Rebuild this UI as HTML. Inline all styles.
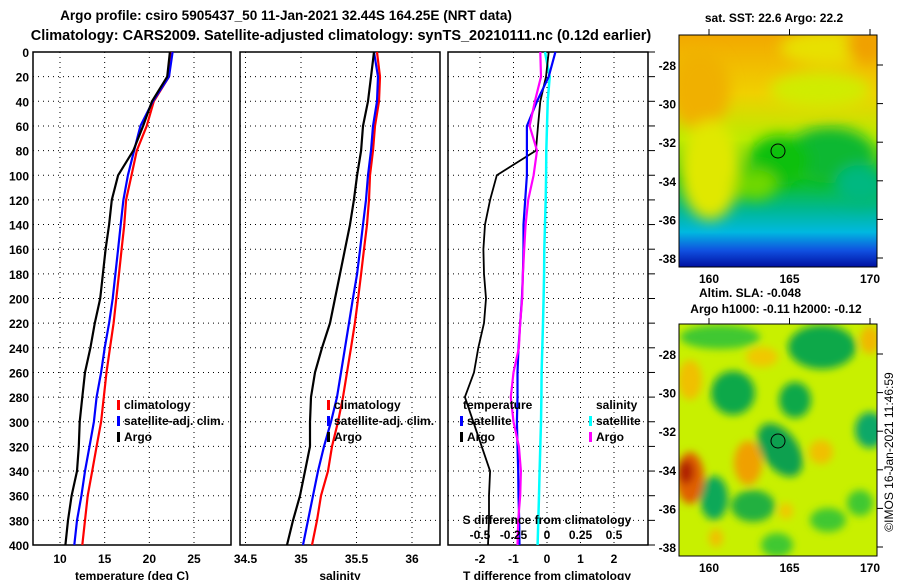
<!DOCTYPE html>
<html><head><meta charset="utf-8"><style>
html,body{margin:0;padding:0;background:#fff;width:900px;height:580px;overflow:hidden}
svg{display:block;font-family:"Liberation Sans",sans-serif;font-weight:bold}
</style></head><body>
<svg id="c" width="900" height="580" viewBox="0 0 900 580" xmlns="http://www.w3.org/2000/svg">
<defs>
<filter id="bl" x="-20%" y="-20%" width="140%" height="140%"><feGaussianBlur stdDeviation="7"/></filter>
<filter id="bl2" x="-20%" y="-20%" width="140%" height="140%"><feGaussianBlur stdDeviation="4"/></filter>
<clipPath id="m1c"><rect x="679" y="35" width="198" height="232"/></clipPath>
<clipPath id="m2c"><rect x="679" y="324" width="198" height="232"/></clipPath>
<linearGradient id="g1" x1="0" y1="0" x2="0" y2="1">
<stop offset="0" stop-color="#f2a800"/><stop offset="0.25" stop-color="#f0d000"/><stop offset="0.45" stop-color="#b8ec00"/>
<stop offset="0.62" stop-color="#10c020"/><stop offset="0.75" stop-color="#00b890"/><stop offset="0.85" stop-color="#00b8e0"/>
<stop offset="0.93" stop-color="#1050e0"/><stop offset="1" stop-color="#0010a0"/></linearGradient>
</defs>
<g id="titles">
<text x="286" y="20" text-anchor="middle" font-size="13.6">Argo profile: csiro 5905437_50 11-Jan-2021 32.44S 164.25E (NRT data)</text>
<text x="341" y="40" text-anchor="middle" font-size="14.5">Climatology: CARS2009. Satellite-adjusted climatology: synTS_20210111.nc (0.12d earlier)</text>
</g>
<g id="panels"></g>
<g>
<text x="774" y="22" text-anchor="middle" font-size="12">sat. SST: 22.6 Argo: 22.2</text>
<g clip-path="url(#m1c)">
<rect x="679" y="35" width="198" height="232" fill="url(#g1)"/>
<g filter="url(#bl)">
<ellipse cx="830" cy="48" rx="50" ry="18" fill="#e8e000"/>
<ellipse cx="865" cy="45" rx="18" ry="18" fill="#f0a000"/>
<ellipse cx="700" cy="90" rx="30" ry="40" fill="#f0b000"/>
<ellipse cx="820" cy="90" rx="50" ry="18" fill="#d0ec00"/>
<ellipse cx="710" cy="170" rx="30" ry="50" fill="#e0e800"/>
<ellipse cx="830" cy="155" rx="45" ry="28" fill="#10b830"/>
<ellipse cx="780" cy="160" rx="30" ry="25" fill="#10c010"/>
<ellipse cx="755" cy="185" rx="22" ry="15" fill="#70d800"/>
<ellipse cx="860" cy="185" rx="25" ry="20" fill="#00b880"/>
</g>
</g>
<rect x="679" y="35" width="198" height="232" fill="none" stroke="#000" stroke-width="1"/>
<circle cx="778" cy="151" r="7" fill="none" stroke="#000" stroke-width="1"/>
</g>
<g>
<text x="699" y="297" font-size="12">Altim. SLA: -0.048</text>
<text x="776" y="313" text-anchor="middle" font-size="12">Argo h1000: -0.11 h2000: -0.12</text>
<g clip-path="url(#m2c)">
<rect x="679" y="324" width="198" height="232" fill="#c8f000"/>
<g filter="url(#bl2)">
<ellipse cx="720" cy="337" rx="40" ry="12" fill="#40c830"/>
<ellipse cx="822" cy="347" rx="34" ry="22" fill="#10a848"/>
<ellipse cx="733" cy="393" rx="22" ry="22" fill="#10a848"/>
<ellipse cx="795" cy="400" rx="16" ry="18" fill="#10a848"/>
<ellipse cx="780" cy="450" rx="18" ry="30" fill="#10a050" transform="rotate(-35 780 450)"/>
<ellipse cx="870" cy="430" rx="15" ry="18" fill="#10a868"/>
<ellipse cx="714" cy="498" rx="14" ry="22" fill="#10a858"/>
<ellipse cx="753" cy="506" rx="22" ry="16" fill="#20b040"/>
<ellipse cx="777" cy="545" rx="16" ry="12" fill="#40c830"/>
<ellipse cx="828" cy="520" rx="18" ry="12" fill="#40c830"/>
<ellipse cx="860" cy="503" rx="13" ry="13" fill="#40c830"/>
<ellipse cx="690" cy="380" rx="12" ry="20" fill="#f0c000"/>
<ellipse cx="762" cy="357" rx="16" ry="10" fill="#f0c800"/>
<ellipse cx="870" cy="340" rx="10" ry="14" fill="#f0b800"/>
<ellipse cx="748" cy="463" rx="14" ry="22" fill="#f0a000"/>
<ellipse cx="821" cy="452" rx="12" ry="12" fill="#f0c000"/>
<ellipse cx="690" cy="478" rx="14" ry="26" fill="#e06000"/>
<ellipse cx="686" cy="472" rx="8" ry="12" fill="#b02000"/>
<ellipse cx="716" cy="538" rx="7" ry="9" fill="#f0c000"/>
<ellipse cx="786" cy="511" rx="7" ry="8" fill="#f0c800"/>
</g>
</g>
<rect x="679" y="324" width="198" height="232" fill="none" stroke="#000" stroke-width="1"/>
<circle cx="778" cy="441" r="7" fill="none" stroke="#000" stroke-width="1"/>
</g>
<g id="mapaxes" font-size="12"></g>
<text transform="translate(893 452) rotate(-90)" text-anchor="middle" font-size="12" font-weight="normal">©IMOS 16-Jan-2021 11:46:59</text>
</svg>
<script>
const depths=[0,20,40,60,80,100,120,140,160,180,200,220,240,260,280,300,320,340,360,380,400];
const tempClim=[22.4,22.2,20.5,19.7,18.6,18.0,17.4,17.2,16.9,16.6,16.3,16.0,15.6,15.2,14.9,14.6,14.1,13.6,13.1,12.8,12.5];
const tempSat=[22.6,22.2,20.4,19.0,18.3,17.6,17.1,16.8,16.5,16.2,15.9,15.5,15.0,14.6,14.1,13.8,13.3,12.8,12.4,11.9,11.6];
const tempArgo=[22.3,22.0,20.3,19.3,18.2,16.5,15.8,15.5,15.1,14.8,14.5,13.9,13.4,12.8,12.5,12.2,12.1,11.9,11.3,10.9,10.6];
const salClim=[35.685,35.712,35.703,35.667,35.649,35.622,35.613,35.595,35.568,35.541,35.514,35.486,35.45,35.414,35.378,35.333,35.279,35.243,35.18,35.144,35.099];
const salSat=[35.658,35.694,35.685,35.649,35.631,35.604,35.586,35.559,35.532,35.505,35.468,35.432,35.396,35.36,35.324,35.27,35.207,35.153,35.108,35.063,35.018];
const salArgo=[35.658,35.631,35.604,35.559,35.541,35.505,35.477,35.441,35.396,35.351,35.306,35.261,35.189,35.126,35.09,35.081,35.081,35.036,34.991,34.928,34.874];
const tDiffSat=[0.25,0.05,-0.3,-0.6,-0.6,-0.6,-0.65,-0.7,-0.7,-0.72,-0.75,-0.8,-0.85,-0.88,-0.88,-0.9,-0.88,-0.86,-0.85,-0.83,-0.82];
const tDiffArgo=[0.05,-0.03,-0.2,-0.27,-0.33,-1.5,-1.7,-1.85,-1.9,-1.88,-1.82,-1.88,-2.05,-2.18,-2.45,-2.2,-1.95,-1.7,-1.73,-1.73,-1.76];
const sDiffSat=[-0.015,0.02,0.005,0.0,-0.005,-0.007,-0.01,-0.015,-0.02,-0.022,-0.025,-0.03,-0.035,-0.04,-0.042,-0.045,-0.05,-0.055,-0.06,-0.065,-0.07];
const sDiffArgo=[-0.05,-0.045,-0.09,-0.13,-0.075,-0.1,-0.14,-0.16,-0.17,-0.18,-0.185,-0.2,-0.21,-0.25,-0.27,-0.25,-0.21,-0.195,-0.2,-0.215,-0.22];
const depthTicks=[0,20,40,60,80,100,120,140,160,180,200,220,240,260,280,300,320,340,360,380,400];
const tempTicks=[10,15,20,25];
const salTicks=[34.5,35,35.5,36];
const tDiffTicks=[-2,-1,0,1,2];
const sDiffTicks=[-0.5,-0.25,0,0.25,0.5];
const sDiffLabels=["-0.5","-0.25","0","0.25","0.5"];
const mapLatTicks=[-28,-30,-32,-34,-36,-38];
const mapLonTicks=[160,165,170];

const NS='http://www.w3.org/2000/svg';
const panelsG=document.getElementById('panels');
function mk(tag,attrs,parent){const e=document.createElementNS(NS,tag);for(const k in attrs)e.setAttribute(k,attrs[k]);(parent||panelsG).appendChild(e);return e;}
const Y0=52,Y1=545;
function yD(d){return Y0+(Y1-Y0)*d/400;}
function lin(d0,d1,r0,r1){return v=>r0+(v-d0)*(r1-r0)/(d1-d0);}
const xT=lin(10,25,60,194);
const xS=lin(35,36,301,412);
const xdT=lin(0,1,547,580.5);
const xdS=lin(0,0.25,547,580.5);

function frame(x0,x1,name){
  const r=mk('rect',{x:x0,y:Y0,width:x1-x0,height:Y1-Y0,fill:'none',stroke:'#000','stroke-width':1.5});
  
  
  depthTicks.forEach(d=>{ if(d>0&&d<400){const l=mk('line',{x1:x0,x2:x1,y1:yD(d),y2:yD(d),stroke:'#000','stroke-width':1,'stroke-dasharray':'1 4'});
    
    }});
}
function vgrid(ticks,sc,name){ticks.forEach(t=>{const x=sc(t);const l=mk('line',{x1:x,x2:x,y1:Y0,y2:Y1,stroke:'#000','stroke-width':1,'stroke-dasharray':'1 4'});
  
  });}
function xlabels(ticks,sc,y,name,labels){ticks.forEach((t,i)=>{const tx=mk('text',{x:sc(t),y:y,'text-anchor':'middle','font-size':12});tx.textContent=labels?labels[i]:String(t);
  
  });}
function line(vals,sc,color,name,w){const pts=vals.map((v,i)=>sc(v).toFixed(1)+','+yD(depths[i]).toFixed(1)).join(' ');
  const p=mk('polyline',{points:pts,fill:'none',stroke:color,'stroke-width':w||2.2,'stroke-linejoin':'round'});
  
  }
function legend(x,y,color,label,name){const r=mk('rect',{x:x,y:y-9,width:3,height:10,fill:color});
  
  
  const t=mk('text',{x:x+7,y:y,'font-size':12});t.textContent=label;
  
  }
function text(x,y,s,name,anchor,size){const t=mk('text',{x:x,y:y,'text-anchor':anchor||'start','font-size':size||12});t.textContent=s;
  
  }

frame(33,231,'temperature-panel');
vgrid(tempTicks,xT,'temperature');
depthTicks.forEach(d=>{const t=mk('text',{x:29,y:yD(d)+5,'text-anchor':'end','font-size':12});t.textContent=String(d);
  
  });
line(tempClim,xT,'#ff0000','temperature-climatology-line');
line(tempSat,xT,'#0000ff','temperature-satellite-line');
line(tempArgo,xT,'#000000','temperature-argo-line');
xlabels(tempTicks,xT,563,'temperature');
text(132,580,'temperature (deg C)','temperature-axis-title','middle');
legend(117,409,'#ff0000','climatology','temp-climatology');
legend(117,425,'#0000ff','satellite-adj. clim.','temp-satellite');
legend(117,441,'#000000','Argo','temp-argo');

frame(240,440,'salinity-panel');
vgrid(salTicks,xS,'salinity');
line(salClim,xS,'#ff0000','salinity-climatology-line');
line(salSat,xS,'#0000ff','salinity-satellite-line');
line(salArgo,xS,'#000000','salinity-argo-line');
xlabels(salTicks,xS,563,'salinity');
text(340,580,'salinity','salinity-axis-title','middle');
legend(327,409,'#ff0000','climatology','sal-climatology');
legend(327,425,'#0000ff','satellite-adj. clim.','sal-satellite');
legend(327,441,'#000000','Argo','sal-argo');

frame(448,648,'difference-panel');
vgrid(tDiffTicks,xdT,'t-difference');
depthTicks.forEach(d=>{const l=mk('line',{x1:648,x2:655,y1:yD(d),y2:yD(d),stroke:'#000','stroke-width':1});
  
  });
line(sDiffSat,xdS,'#00ffff','salinity-satellite-diff-line',2.5);
line(tDiffArgo,xdT,'#000000','temperature-argo-diff-line',1.8);
line(tDiffSat,xdT,'#0000ff','temperature-satellite-diff-line');
line(sDiffArgo,xdS,'#ff00ff','salinity-argo-diff-line');
text(463,409,'temperature','temperature-legend-title');
legend(460,425,'#0000ff','satellite','tdiff-satellite');
legend(460,441,'#000000','Argo','tdiff-argo');
text(596,409,'salinity','salinity-legend-title');
legend(589,425,'#00ffff','satellite','sdiff-satellite');
legend(589,441,'#ff00ff','Argo','sdiff-argo');
text(547,524,'S difference from climatology','s-difference-axis-title','middle');
xlabels(sDiffTicks,xdS,539,'s-difference',sDiffLabels);
xlabels(tDiffTicks,xdT,563,'t-difference');
text(547,580,'T difference from climatology','t-difference-axis-title','middle');

const ma=document.getElementById('mapaxes');
const lonX=lin(160,170,709,870);
[[35,267],[324,556]].forEach((m,mi)=>{
  const latY=lin(-28,-38,m[0]+30,m[0]+223);
  mapLatTicks.forEach(v=>{const y=latY(v);
    const t=mk('text',{x:676,y:y+5,'text-anchor':'end','font-size':12},ma);t.textContent=String(v);
    
    
    const l=mk('line',{x1:877,x2:883,y1:y,y2:y,stroke:'#000'},ma);
    
    });
  mapLonTicks.forEach(v=>{const x=lonX(v);
    const l=mk('line',{x1:x,x2:x,y1:m[0]-6,y2:m[0],stroke:'#000'},ma);
    
    
    const t=mk('text',{x:x,y:m[1]+16,'text-anchor':'middle','font-size':12},ma);t.textContent=String(v);
    
    });
});
</script>
</body></html>
